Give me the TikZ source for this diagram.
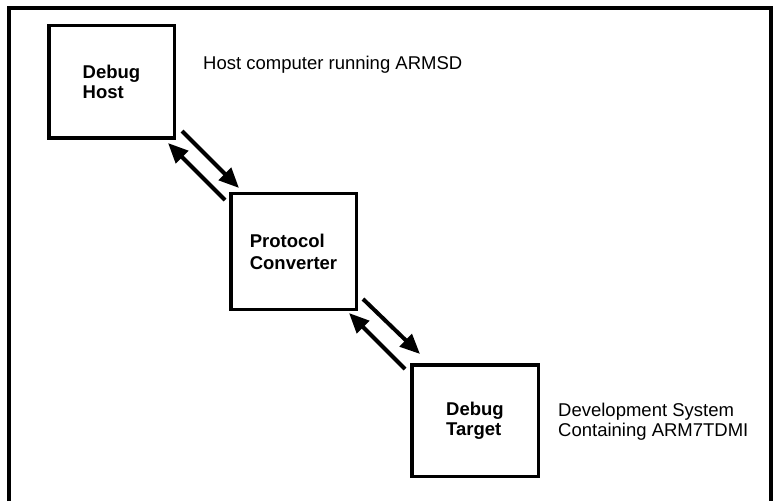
\documentclass[tikz,border=0pt]{standalone}
\usepackage{fontspec}
\setmainfont{Liberation Sans}
\usetikzlibrary{arrows.meta,positioning,calc}
\tikzset{
	unitbox/.style={rectangle, draw=black, line width=3.5pt, minimum width=125.5pt,
		minimum height=112.5pt, align=left, inner sep=0pt,
		font=\bfseries\fontsize{18.5}{20}\selectfont},
	notetext/.style={anchor=base west, inner sep=0pt, align=left,
		font=\fontsize{18.5}{20}\selectfont},
	linkarr/.style={-{Triangle[length=20pt,width=17pt]}, line width=4pt}
}

\begin{document}
\begin{tikzpicture}[x=1pt, y=1pt]
	\useasboundingbox (0,0) rectangle (778,501);
	% open frame
	\draw[line width=4pt] (9,0) -- (9,493) -- (771,493) -- (771,0);
	\node[unitbox] (host) at (111.5,419) {Debug\\Host};
	\node[unitbox, minimum height=115.5pt, below right=52pt and 53pt of host] (conv) {Protocol\\[2pt]Converter};
	\node[unitbox, minimum width=126.5pt, minimum height=111.5pt, below right=52pt and 52pt of conv] (target) {Debug\\Target};
	\node[notetext] (hostnote) at ($(host.north east)+(27,-46)$) {Host computer running ARMSD};
	\node[notetext] (targetnote) at ($(target.north east)+(18,-73)$) {Development System\\Containing ARM7TDMI};
	\draw[linkarr] ($(host.south east)+(6,9)$) -- ($(conv.north west)+(10,4)$);
	\draw[linkarr] ($(conv.north west)+(-4,-8)$) -- ($(host.south east)+(-8,-3)$);
	\draw[linkarr] ($(conv.south east)+(5,12)$) -- ($(target.north west)+(10,9)$);
	\draw[linkarr] ($(target.north west)+(-5,-6)$) -- ($(conv.south east)+(-9,-2)$);
\end{tikzpicture}
\end{document}
